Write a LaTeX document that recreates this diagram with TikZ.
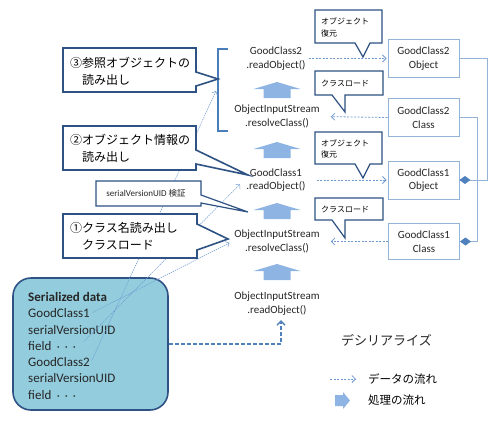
\documentclass[tikz,border=0pt]{standalone}
\usepackage{fontspec}
\setmainfont{Carlito}
\newfontfamily\jp{Noto Sans CJK JP}
\usetikzlibrary{arrows.meta}
\definecolor{darkblue}{HTML}{2E5283}
\definecolor{bracketblue}{HTML}{4A7EBB}
\definecolor{boxblue}{HTML}{95B3D7}
\definecolor{flowblue}{HTML}{6F9AD3}
\definecolor{procblue}{HTML}{8EB4E3}
\definecolor{sdfill}{HTML}{93CDDD}
\definecolor{diamondblue}{HTML}{4F81BD}
\newcommand\sddots{{\jp\fontsize{8}{8}\selectfont ・・・}}
\tikzset{
  % left callouts and small callouts
  callout/.style={draw=darkblue, line width=1.6pt, fill=white, line join=miter},
  smallcallout/.style={draw=darkblue, line width=1.2pt, fill=white, line join=miter},
  calltext/.style={font=\jp\fontsize{12}{17}\selectfont, align=left, inner sep=0pt, anchor=west},
  smalltext/.style={font=\jp\fontsize{8}{11.5}\selectfont, align=left, inner sep=0pt, anchor=west},
  % method calls and classes
  calltextc/.style={font=\fontsize{11}{13.5}\selectfont, align=center, text=black!85, inner sep=2pt},
  objbox/.style={draw=boxblue, line width=0.9pt, fill=white, minimum width=71pt, minimum height=38pt,
    align=center, font=\fontsize{11}{13.5}\selectfont, text=black!85, inner sep=0pt},
  compline/.style={draw=boxblue, line width=0.9pt, -{Diamond[color=diamondblue, width=8pt, length=11pt]}},
  % flows
  dataflow/.style={draw=flowblue, line width=0.8pt, dash pattern=on 2pt off 1.5pt,
    -{Straight Barb[length=3.5pt, width=7pt]}},
  sdline/.style={draw=flowblue, line width=0.5pt, dash pattern=on 1.5pt off 0.8pt,
    -{Straight Barb[length=3pt, width=6pt]}},
  bigflow/.style={draw=diamondblue, line width=1.3pt, dash pattern=on 4pt off 2pt,
    -{Straight Barb[length=4pt, width=8pt]}},
  sdtext/.style={font=\fontsize{13}{15}\selectfont, anchor=west, inner sep=1pt, text=black!85},
}

\begin{document}
\begin{tikzpicture}[x=1pt,y=-1pt]
\useasboundingbox (0,0) rectangle (500,424);

% serialized data
\node[draw=darkblue, line width=1.6pt, fill=sdfill, rounded corners=18pt,
  minimum width=155pt, minimum height=132pt] (sdbox) at (90.5,344) {};
\node[sdtext] (sd0) at (27,297) {\textbf{Serialized data}};
\node[sdtext] (sd1) at (27,313.3) {GoodClass1};
\node[sdtext] (sd2) at (27,329.6) {serialVersionUID};
\node[sdtext] (sd3) at (27,345.9) {field \sddots};
\node[sdtext] (sd4) at (27,362.2) {GoodClass2};
\node[sdtext] (sd5) at (27,378.5) {serialVersionUID};
\node[sdtext] (sd6) at (27,394.8) {field \sddots};

% calls
\node[calltextc] (gc2) at (276,58.5) {GoodClass2\\.readObject()};
\node[calltextc] (ois2) at (277,116.5) {ObjectInputStream\\.resolveClass()};
\node[calltextc] (gc1) at (276,180) {GoodClass1\\.readObject()};
\node[calltextc] (ois1) at (277,241.5) {ObjectInputStream\\.resolveClass()};
\node[calltextc] (ois0) at (277,303.5) {ObjectInputStream\\.readObject()};

\foreach \y in {82,142,203,264}
  \fill[procblue] (277,\y) -- (300.5,\y+7) -- (290.5,\y+7) -- (290.5,\y+16)
    -- (263.5,\y+16) -- (263.5,\y+7) -- (253.5,\y+7) -- cycle;

% objects and classes
\node[objbox] (obj2) at (423.5,58.5) {GoodClass2\\Object};
\node[objbox] (cls2) at (423.5,117.5) {GoodClass2\\Class};
\node[objbox] (obj1) at (423.5,180) {GoodClass1\\Object};
\node[objbox, minimum height=36pt] (cls1) at (424,241.5) {GoodClass1\\Class};

\draw[compline] (obj2.east) -- ++(28,0) |- (obj1.east);
\draw[compline] (cls2.east) -- ++(18,0) |- (cls1.east);

\draw[dataflow, shorten <=1pt, shorten >=1pt] (gc2.east) -- (obj2.west);
\draw[dataflow, shorten >=9pt] (cls2.west) -- (ois2.east);
\draw[dataflow, shorten <=9pt, shorten >=1pt] (gc1.east) -- (obj1.west);
\draw[dataflow, shorten >=9pt] (cls1.west) -- (ois1.east);
\draw[bigflow, shorten >=3pt] (sdbox.east) -| ([xshift=4pt]ois0.south);

% bracket round the GoodClass2 part
\draw[bracketblue, line width=1.3pt] (228,49) -- (218,49) -- (218,131) -- (228,131);
\coordinate (brk) at (216,91);

% lines out of the serialized data
\draw[sdline, shorten <=2pt, shorten >=3pt] (sd1.east) -- (ois1.west);
\draw[sdline, shorten <=6pt, shorten >=6pt] (sd3.east) -- (gc1.west);
\draw[sdline, shorten <=2pt] (sd4.east) -- (brk);

% left callouts
\draw[callout] (63,48) -- (196,48) -- (196,72) -- (218,79) -- (196,86) -- (196,92) -- (63,92) -- cycle;
\node[calltext] (c3) at (70,71) {③参照オブジェクトの\\　読み出し};
\draw[callout] (63,126) -- (196,126) -- (196,150) -- (248,175) -- (196,164) -- (196,170) -- (63,170) -- cycle;
\node[calltext] (c2) at (70,148.5) {②オブジェクト情報の\\　読み出し};
\draw[smallcallout] (96,181) -- (201,181) -- (201,195) -- (248,212) -- (201,203) -- (201,206) -- (96,206) -- cycle;
\node[font=\fontsize{9}{11}\selectfont, text=black!85, inner sep=0pt] (svuid) at (146,193.5) {serialVersionUID {\jp\fontsize{8.5}{11}\selectfont 検証}};
\draw[callout] (63,214) -- (197,214) -- (197,224) -- (228,239) -- (197,250) -- (197,258) -- (63,258) -- cycle;
\node[calltext] (c1) at (70,236.5) {①クラス名読み出し\\　クラスロード};

% small callouts
\draw[smallcallout] (315,10) -- (382,10) -- (382,43) -- (370,43) -- (363,57) -- (355,43) -- (315,43) -- cycle;
\node[smalltext] (rest2) at (321,27.5) {オブジェクト\\復元};
\draw[smallcallout] (315,71) -- (383,71) -- (383,95) -- (345,95) -- (345,112) -- (332,95) -- (315,95) -- cycle;
\node[smalltext] (load2) at (321,83) {クラスロード};
\draw[smallcallout] (315,132) -- (382,132) -- (382,164) -- (370,164) -- (363,178) -- (355,164) -- (315,164) -- cycle;
\node[smalltext] (rest1) at (321,149) {オブジェクト\\復元};
\draw[smallcallout] (315,198) -- (383,198) -- (383,220) -- (345,220) -- (345,238) -- (332,220) -- (315,220) -- cycle;
\node[smalltext] (load1) at (321,209) {クラスロード};

% legend
\node[font=\jp\fontsize{13}{15}\selectfont, text=black!85] (title) at (386.5,340) {デシリアライズ};
\node[font=\jp\fontsize{11.5}{14}\selectfont, anchor=west, inner sep=0pt] (lgdata) at (368,379) {データの流れ};
\node[font=\jp\fontsize{11.5}{14}\selectfont, anchor=west, inner sep=0pt] (lgproc) at (368,400.5) {処理の流れ};
\coordinate (lgstart) at (330,379);
\draw[dataflow, shorten >=12pt] (lgstart) -- (lgdata.west);
\fill[procblue] (335,395) -- (343,395) -- (343,392) -- (350,400.5) -- (343,409) -- (343,406) -- (335,406) -- cycle;

\end{tikzpicture}
\end{document}
